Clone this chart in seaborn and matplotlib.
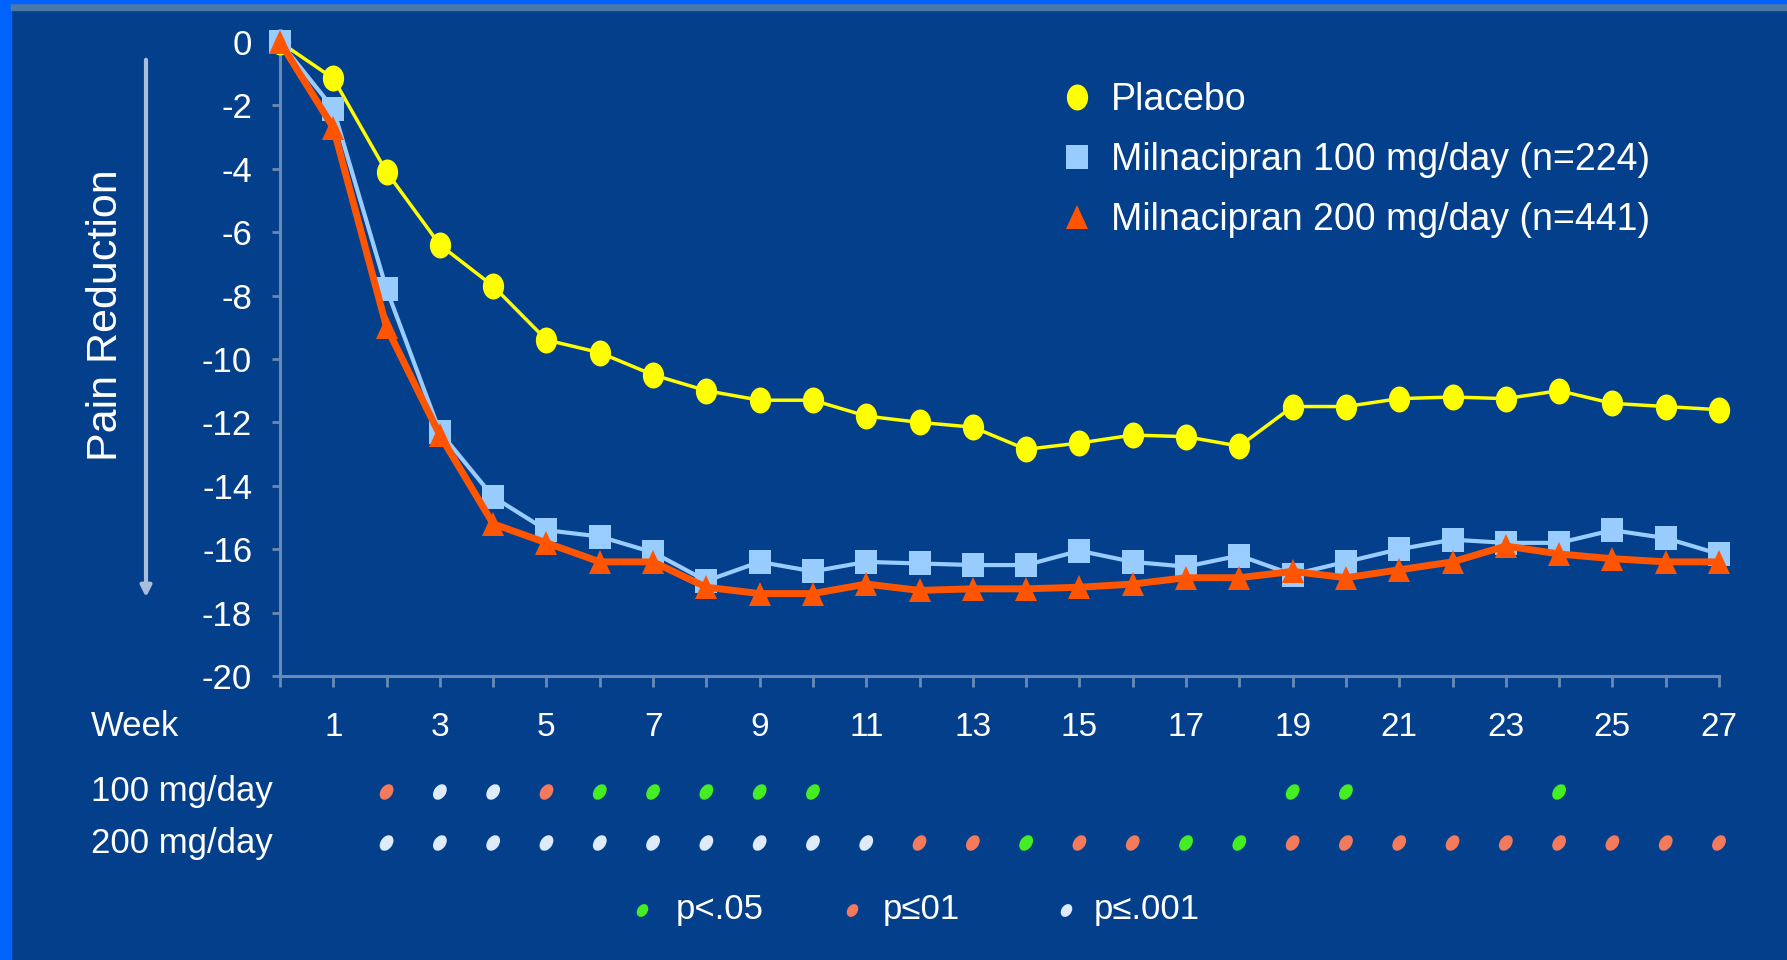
import numpy as np
import pandas as pd
import matplotlib
matplotlib.use('Agg')
import matplotlib.pyplot as plt
import seaborn as sns
from matplotlib.lines import Line2D
from matplotlib.markers import MarkerStyle
from matplotlib.transforms import Affine2D

# ---- data ----
weeks = list(range(28))
placebo = [0, -1.15, -4.1, -6.4, -7.7, -9.4, -9.8, -10.5, -11.0, -11.3, -11.3, -11.8,
           -12.0, -12.15, -12.85, -12.65, -12.4, -12.45, -12.75, -11.5, -11.5, -11.25,
           -11.2, -11.25, -11.0, -11.4, -11.5, -11.6]
mg100 = [0, -2.1, -7.8, -12.3, -14.35, -15.4, -15.6, -16.1, -17.0, -16.4, -16.7, -16.4,
         -16.45, -16.5, -16.5, -16.05, -16.4, -16.55, -16.2, -16.8, -16.4, -16.0,
         -15.7, -15.8, -15.8, -15.4, -15.65, -16.15]
mg200 = [0, -2.7, -9.0, -12.4, -15.2, -15.8, -16.4, -16.4, -17.2, -17.4, -17.4, -17.1,
         -17.3, -17.25, -17.25, -17.2, -17.1, -16.9, -16.9, -16.7, -16.9, -16.65,
         -16.4, -15.9, -16.15, -16.3, -16.4, -16.4]

series_labels = ['Placebo', 'Milnacipran 100 mg/day (n=224)', 'Milnacipran 200 mg/day (n=441)']

yticks = list(range(-20, 1, 2))
xlabel_weeks = list(range(1, 28, 2))

# significance rows
sig_weeks_100 = [2, 3, 4, 5, 6, 7, 8, 9, 10, 19, 20, 24]
sig_level_100 = ['p01', 'p001', 'p001', 'p01', 'p05', 'p05', 'p05', 'p05', 'p05',
                 'p05', 'p05', 'p05']
sig_weeks_200 = list(range(2, 28))
sig_level_200 = (['p001'] * 10 + ['p01', 'p01', 'p05', 'p01', 'p01', 'p05', 'p05']
                 + ['p01'] * 9)
sig_keys = ['p05', 'p01', 'p001']
sig_texts = ['p<.05', 'p≤01', 'p≤.001']

# ---- style ----
bg = '#043F8B'
spine_col = '#6A8AB5'
sig_colors = {'p05': '#44EE22', 'p01': '#F47A5C', 'p001': '#DDEBFA'}

sns.set_style('ticks')
plt.rcParams['font.family'] = ['Liberation Sans', 'DejaVu Sans']

W, H = 1787, 960
fig = plt.figure(figsize=(W / 100, H / 100), dpi=100)
fig.patch.set_facecolor(bg)

# slide border stripes
fig.patches.append(plt.Rectangle((0, 0), 11 / W, 1, color='#0062FF',
                                 transform=fig.transFigure, zorder=0))
fig.patches.append(plt.Rectangle((11 / W, 1 - 10 / H), 1, 7 / H, color='#4B79AA',
                                 transform=fig.transFigure, zorder=0))
fig.patches.append(plt.Rectangle((0, 1 - 3 / H), 1, 3 / H, color='#0062FF',
                                 transform=fig.transFigure, zorder=0))

ax = fig.add_axes([280 / W, 1 - 676 / H, (1719 - 280) / W, (676 - 42) / H])
ax.set_facecolor('none')

# markers on the slide are slightly taller than wide
circ = MarkerStyle('o', transform=Affine2D().scale(0.9, 1.1))
sq = MarkerStyle('s', transform=Affine2D().scale(0.95, 1.05))
tri = MarkerStyle('^', transform=Affine2D().scale(0.95, 1.05))

sns.lineplot(x=weeks, y=placebo, ax=ax, color='#FFFF00', lw=2.5, marker=circ,
             markersize=17, markeredgewidth=0, clip_on=False, zorder=3)
sns.lineplot(x=weeks, y=mg100, ax=ax, color='#99CCFF', lw=3, marker=sq,
             markersize=16, markeredgewidth=0, clip_on=False, zorder=4)
sns.lineplot(x=weeks, y=mg200, ax=ax, color='#FF5500', lw=5, marker=tri,
             markersize=16, markeredgewidth=0, clip_on=False, zorder=5)

ax.set_xlim(0, 27)
ax.set_ylim(-20, 0)
for s in ['top', 'right']:
    ax.spines[s].set_visible(False)
for s in ['left', 'bottom']:
    ax.spines[s].set_color(spine_col)
    ax.spines[s].set_linewidth(2.2)

ax.set_yticks(yticks)
ax.set_yticklabels([str(v) for v in yticks])
ax.set_xticks(weeks)
ax.set_xticklabels([str(w) if w in xlabel_weeks else '' for w in weeks])
ax.tick_params(axis='y', colors=spine_col, width=2, length=6, pad=14,
               labelcolor='white', labelsize=25)
ax.tick_params(axis='x', colors=spine_col, width=2, length=8, pad=18,
               labelcolor='white', labelsize=24)
ax.set_xlabel('')
ax.set_ylabel('')

# y label with downward arrow
fig.text(106 / W, 1 - 315 / H, 'Pain Reduction', rotation=90, ha='center', va='center',
         color='white', fontsize=31)
ax.annotate('', xy=(146 / W, 1 - 600 / H), xytext=(146 / W, 1 - 57 / H),
            xycoords='figure fraction', textcoords='figure fraction',
            arrowprops=dict(arrowstyle='-|>', color='#A9BEDC', lw=3, mutation_scale=16))

fig.text(91 / W, 1 - 727 / H, 'Week', ha='left', va='center', color='white', fontsize=25)
fig.text(91 / W, 1 - 792 / H, '100 mg/day', ha='left', va='center', color='white', fontsize=25)
fig.text(91 / W, 1 - 843 / H, '200 mg/day', ha='left', va='center', color='white', fontsize=25)

# significance dots below the axis
dot = MarkerStyle('o', transform=Affine2D().scale(0.7, 1.0).rotate_deg(-35))
row100 = -(792 - 42) / ((676 - 42) / 20)
row200 = -(843 - 42) / ((676 - 42) / 20)
sig_df = pd.DataFrame({
    'week': sig_weeks_100 + sig_weeks_200,
    'row': [row100] * len(sig_weeks_100) + [row200] * len(sig_weeks_200),
    'level': sig_level_100 + sig_level_200,
})
sns.scatterplot(data=sig_df, x='week', y='row', hue='level', palette=sig_colors,
                marker=dot, s=150, linewidth=0, ax=ax, clip_on=False, legend=False)
ax.set_xlabel('')
ax.set_ylabel('')

# significance key
key_dot_x = [642, 852, 1066]
key_txt_x = [676, 883, 1094]
for k, t, dx, tx in zip(sig_keys, sig_texts, key_dot_x, key_txt_x):
    fig.lines.append(Line2D([dx / W], [1 - 910 / H], transform=fig.transFigure,
                            marker=dot, markersize=9, color=sig_colors[k], lw=0))
    fig.text(tx / W, 1 - 909 / H, t, ha='left', va='center', color='white', fontsize=25)

# series legend
handles = [
    Line2D([], [], color='#FFFF00', marker=circ, markersize=17, lw=0, markeredgewidth=0),
    Line2D([], [], color='#99CCFF', marker=sq, markersize=16, lw=0, markeredgewidth=0),
    Line2D([], [], color='#FF5500', marker=tri, markersize=16, lw=0, markeredgewidth=0),
]
leg = ax.legend(handles, series_labels, loc='upper left', bbox_to_anchor=(1058 / W, 1 - 82 / H),
                bbox_transform=fig.transFigure, frameon=False, fontsize=27,
                handlelength=1.0, handletextpad=0.42, labelspacing=0.64,
                borderpad=0, borderaxespad=0)
for t in leg.get_texts():
    t.set_color('white')

fig.savefig('out.png', dpi=100, facecolor=fig.get_facecolor())
